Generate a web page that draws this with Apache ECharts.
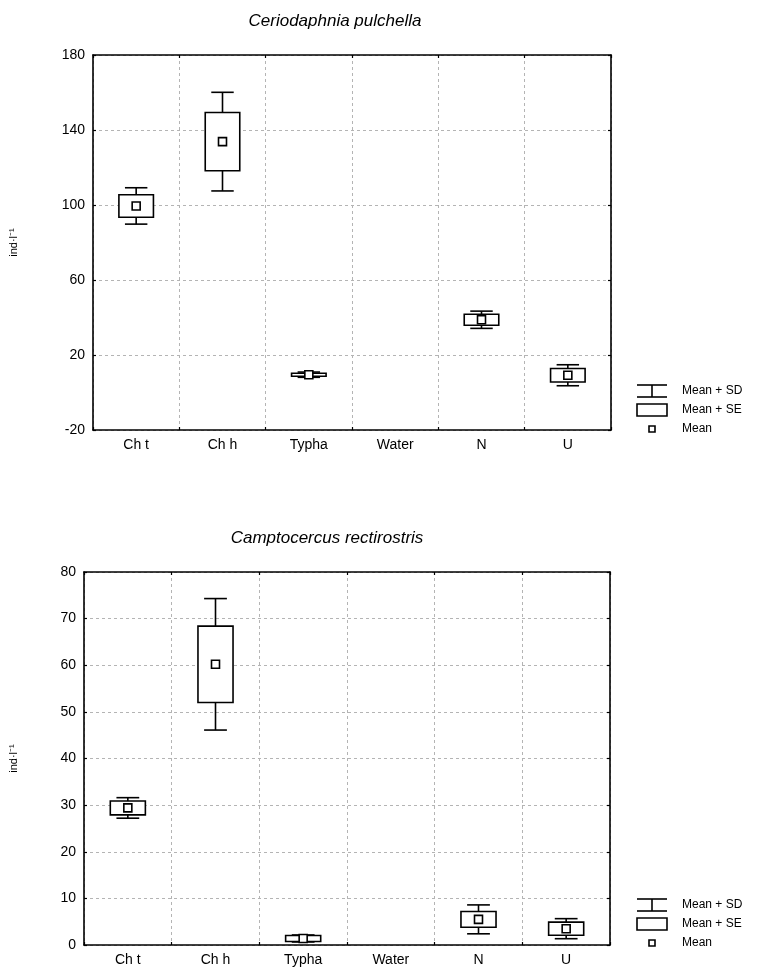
<!DOCTYPE html>
<html>
<head>
<meta charset="utf-8">
<script src="https://cdn.jsdelivr.net/npm/echarts@6/dist/echarts.min.js"></script>
<style>
html,body{margin:0;padding:0;background:#fff;}
#chart{width:763px;height:972px;}
</style>
</head>
<body>
<div id="chart"></div>
<script>
// ---- data ----
const categories = ['Ch t', 'Ch h', 'Typha', 'Water', 'N', 'U'];
const cerioTitle = 'Ceriodaphnia pulchella';
const cerioMean = [99.5, 133.8, 9.5, null, 38.8, 9.2];
const cerioSE   = [6.0, 15.5, 0.8, null, 2.9, 3.6];
const cerioSD   = [9.7, 26.3, 1.4, null, 4.6, 5.6];
const camptoTitle = 'Camptocercus rectirostris';
const camptoMean = [29.4, 60.2, 1.4, null, 5.5, 3.5];
const camptoSE   = [1.5, 8.2, 0.65, null, 1.7, 1.4];
const camptoSD   = [2.2, 14.1, 0.75, null, 3.1, 2.15];
const yName = 'ind·l⁻¹';
const legendLabels = ['Mean + SD', 'Mean + SE', 'Mean'];

const FONT = 'Liberation Sans, Arial, sans-serif';

function buildData(mean, se, sd) {
  return categories.map((c, i) => [i, mean[i], se[i], sd[i]]);
}

function renderBox(params, api) {
  const mean = api.value(1);
  if (mean == null || isNaN(mean)) return;
  const idx = api.value(0);
  const se = api.value(2);
  const sd = api.value(3);
  const cw = api.size([1, 0])[0];
  const pm = api.coord([idx, mean]);
  const x = pm[0];
  const yM = pm[1];
  const ySeT = api.coord([idx, mean + se])[1];
  const ySeB = api.coord([idx, mean - se])[1];
  const ySdT = api.coord([idx, mean + sd])[1];
  const ySdB = api.coord([idx, mean - sd])[1];
  const bw = cw * 0.4;
  const capw = cw * 0.26;
  const st = { stroke: '#000', lineWidth: 1.6, fill: null };
  const ms = 8;
  return {
    type: 'group',
    children: [
      { type: 'line', shape: { x1: x, y1: ySdT, x2: x, y2: ySeT }, style: st },
      { type: 'line', shape: { x1: x, y1: ySeB, x2: x, y2: ySdB }, style: st },
      { type: 'line', shape: { x1: x - capw / 2, y1: ySdT, x2: x + capw / 2, y2: ySdT }, style: st },
      { type: 'line', shape: { x1: x - capw / 2, y1: ySdB, x2: x + capw / 2, y2: ySdB }, style: st },
      { type: 'rect', shape: { x: x - bw / 2, y: ySeT, width: bw, height: ySeB - ySeT }, style: { stroke: '#000', lineWidth: 1.6, fill: '#fff' } },
      { type: 'rect', shape: { x: x - ms / 2, y: yM - ms / 2, width: ms, height: ms }, style: { stroke: '#000', lineWidth: 1.6, fill: '#fff' } }
    ]
  };
}

const gridLine = { show: true, lineStyle: { color: '#b4b4b4', type: [3, 3], width: 1 } };
const axisLine = { show: true, onZero: false, lineStyle: { color: '#000', width: 1.6 } };
const tick = { show: true, inside: true, length: 3, lineStyle: { color: '#000', width: 1.2 } };
const labelStyle = { color: '#000', fontSize: 14, fontFamily: FONT };

function xAxes(gridIndex) {
  return [
    { type: 'category', gridIndex, data: categories, boundaryGap: true, position: 'bottom',
      axisLine, axisTick: tick,
      axisLabel: Object.assign({ margin: 8 }, labelStyle), splitLine: gridLine },
    { type: 'category', gridIndex, data: categories, position: 'top', boundaryGap: true,
      axisLine, axisTick: tick,
      axisLabel: { show: false }, splitLine: { show: false } }
  ];
}
function yAxes(gridIndex, min, max, interval, nameGap) {
  return [
    { type: 'value', gridIndex, min, max, interval, position: 'left',
      name: yName, nameLocation: 'middle', nameGap, nameRotate: 90,
      nameTextStyle: { color: '#000', fontSize: 11, fontFamily: FONT },
      axisLine, axisTick: tick,
      axisLabel: Object.assign({ margin: 8 }, labelStyle), splitLine: gridLine },
    { type: 'value', gridIndex, min, max, interval, position: 'right',
      axisLine, axisTick: tick,
      axisLabel: { show: false }, splitLine: { show: false } }
  ];
}

function legendGraphic(x, y0, dy) {
  const st = { stroke: '#000', lineWidth: 1.6, fill: null };
  const tx = x + 45;
  const ts = { fill: '#000', fontSize: 12, fontFamily: FONT, verticalAlign: 'middle', align: 'left' };
  const y1 = y0, y2 = y0 + dy, y3 = y0 + 2 * dy;
  return [
    { type: 'line', shape: { x1: x, y1: y1 - 6, x2: x + 30, y2: y1 - 6 }, style: st },
    { type: 'line', shape: { x1: x, y1: y1 + 6, x2: x + 30, y2: y1 + 6 }, style: st },
    { type: 'line', shape: { x1: x + 15, y1: y1 - 6, x2: x + 15, y2: y1 + 6 }, style: st },
    { type: 'text', x: tx, y: y1, style: Object.assign({ text: legendLabels[0] }, ts) },
    { type: 'rect', shape: { x: x, y: y2 - 6, width: 30, height: 12 }, style: st },
    { type: 'text', x: tx, y: y2, style: Object.assign({ text: legendLabels[1] }, ts) },
    { type: 'rect', shape: { x: x + 12, y: y3 - 3, width: 6, height: 6 }, style: { stroke: '#000', lineWidth: 1.6, fill: '#fff' } },
    { type: 'text', x: tx, y: y3, style: Object.assign({ text: legendLabels[2] }, ts) }
  ];
}

const chart = echarts.init(document.getElementById('chart'), null, { renderer: 'canvas' });
const option = {
  animation: false,
  backgroundColor: '#fff',
  title: [
    { text: cerioTitle, left: 330, top: 8, textAlign: 'center',
      textStyle: { fontFamily: FONT, fontStyle: 'italic', fontWeight: 'normal', fontSize: 17, color: '#000' } },
    { text: camptoTitle, left: 322, top: 525, textAlign: 'center',
      textStyle: { fontFamily: FONT, fontStyle: 'italic', fontWeight: 'normal', fontSize: 17, color: '#000' } }
  ],
  grid: [
    { left: 92, top: 55, width: 519, height: 375 },
    { left: 83, top: 572, width: 527, height: 373 }
  ],
  xAxis: [].concat(xAxes(0), xAxes(1)),
  yAxis: [].concat(yAxes(0, -20, 180, 40, 74), yAxes(1, 0, 80, 10, 65)),
  series: [
    { type: 'custom', xAxisIndex: 0, yAxisIndex: 0, renderItem: renderBox,
      encode: { x: 0, y: [1] }, data: buildData(cerioMean, cerioSE, cerioSD), clip: false },
    { type: 'custom', xAxisIndex: 2, yAxisIndex: 2, renderItem: renderBox,
      encode: { x: 0, y: [1] }, data: buildData(camptoMean, camptoSE, camptoSD), clip: false }
  ],
  graphic: [].concat(legendGraphic(637, 391, 19), legendGraphic(637, 905, 19))
};
chart.setOption(option);
</script>
</body>
</html>
